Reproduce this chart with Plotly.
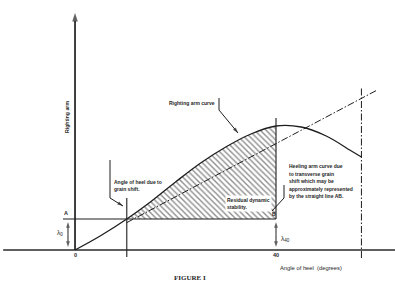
import plotly.graph_objects as go

# ---- data (angle of heel in degrees, arms in arbitrary units) ----
angles = [0, 5, 10.3, 15, 20, 25, 30, 35, 40, 45, 50, 55, 57]
righting_arm = [0, 0.14, 0.31, 0.48, 0.68, 0.87, 1.03, 1.16, 1.24, 1.23, 1.14, 0.99, 0.93]
grain_shift_angle = 10.3
lambda_0 = 0.31
lambda_40 = 0.31
heel_line_x = [10.3, 60]
heel_line_slope = 0.0266
limit_angle = 57
x_tick_vals = [0, 40]
x_tick_text = ["0", "40"]

W, H = 395, 295
X_RANGE = [-14.93, 63.68]
Y_RANGE = [-0.45, 2.50]
INK = "#1e1e1e"
FONT = "Liberation Sans, Arial, sans-serif"
DASHDOT = "7px,2px,1.5px,2px"


def px(x):
    return x / W


def py(y):
    return 1 - y / H


def dx(p):  # pixel -> data x (for layout helpers such as leader lines)
    return X_RANGE[0] + p / W * (X_RANGE[1] - X_RANGE[0])


def dy(p):
    return Y_RANGE[1] - p / H * (Y_RANGE[1] - Y_RANGE[0])


fig = go.Figure()


def line(x, y, width=1.1, dash=None, color=INK, shape="linear"):
    fig.add_trace(go.Scatter(x=x, y=y, mode="lines", hoverinfo="skip",
                             line=dict(color=color, width=width, dash=dash, shape=shape)))


def arrow(x, y, width=1, head=6):
    sizes = [0] * (len(x) - 1) + [head]
    fig.add_trace(go.Scatter(x=x, y=y, mode="lines+markers", hoverinfo="skip",
                             line=dict(color=INK, width=width),
                             marker=dict(symbol="arrow", size=sizes, angleref="previous",
                                         color=INK, line=dict(width=0))))


# hatched residual dynamic stability region
hatch_x = [a for a in angles if grain_shift_angle <= a <= 40]
hatch_y = [r for a, r in zip(angles, righting_arm) if grain_shift_angle <= a <= 40]
fig.add_trace(go.Scatter(x=hatch_x, y=[lambda_0] * len(hatch_x), mode="lines",
                         line=dict(width=0, color=INK), hoverinfo="skip"))
fig.add_trace(go.Scatter(x=hatch_x, y=hatch_y, mode="lines", fill="tonexty",
                         fillcolor="rgba(0,0,0,0)",
                         fillpattern=dict(shape="\\", fgcolor=INK, bgcolor="white",
                                          size=4, solidity=0.35),
                         line=dict(width=0, shape="spline", color=INK), hoverinfo="skip"))

# righting arm curve
line(angles, righting_arm, width=1.3, shape="spline")

# heeling arm straight line (dash-dot)
line(heel_line_x, [v * heel_line_slope for v in heel_line_x], width=1, dash=DASHDOT)

# horizontal line A-B
line([-2.4, 40], [lambda_0, lambda_40], width=1.2)

# vertical at grain-shift angle, at 40 deg, dash-dot at limit angle
line([grain_shift_angle, grain_shift_angle], [-0.07, 0.52])
line([40, 40], [lambda_40, 1.32])
line([limit_angle, limit_angle], [-0.08, 1.62], width=1, dash=DASHDOT)

# x axis line
line([-14.3, 63.7], [0, 0], width=1.7, color="#2a2a2a")
# y axis with arrowhead
arrow([0, 0], [0, 2.37], width=1.7, head=9)

# lambda double arrows
for xa, lam in [(-1.4, lambda_0), (40, lambda_40)]:
    arrow([xa, xa], [lam / 2, lam - 0.03], width=1, head=6)
    arrow([xa, xa], [lam / 2, 0.03], width=1, head=6)

# leader lines
arrow([dx(219), dx(219), dx(238)], [dy(98), dy(110), dy(133)], width=1, head=6)
arrow([dx(110), dx(110), dx(123)], [dy(160), dy(198), dy(206)], width=1, head=6)
line([dx(284), dx(284), dx(272)], [dy(185), dy(198), dy(211)], width=1)

ann = []


def txt(s, x, y, size=5, bold=True, xanchor="left", **kw):
    d = dict(text=("<b>%s</b>" % s) if bold else s, x=px(x), y=py(y), xref="paper",
             yref="paper", showarrow=False, xanchor=xanchor, yanchor="middle",
             font=dict(family=FONT, size=size, color=INK))
    d.update(kw)
    ann.append(d)


txt("Righting arm", 67, 117, size=5.2, xanchor="center", textangle=-90)
txt("Righting arm curve", 167, 103)
txt("Angle of heel due to", 112, 182)
txt("grain shift.", 112, 188.5)
for i, s in enumerate(["Heeling arm curve due", "to transverse grain",
                       "shift which may be", "approximately represented",
                       "by the straight line AB."]):
    txt(s, 287, 166 + i * 7.5)
txt("Residual dynamic<br>stability.", 225, 203, bgcolor="white", borderpad=1,
    align="left")
txt("A", 66, 213, size=5.5, xanchor="center")
txt("B", 274, 214, size=5, xanchor="center")
txt("λ<sub>0</sub>", 60, 233, size=6.5, bold=False, xanchor="center")
txt("λ<sub>40</sub>", 279, 239, size=6.5, bold=False)
for v, t in zip(x_tick_vals, x_tick_text):
    ann.append(dict(text="<b>%s</b>" % t, x=v, y=py(260), xref="x", yref="paper",
                    showarrow=False, font=dict(family=FONT, size=5.5, color=INK)))
txt("Angle of heel  (degrees)", 311, 268, size=5.8, bold=False, xanchor="center")
ann.append(dict(text="<b>FIGURE I</b>", x=px(190), y=py(284), xref="paper", yref="paper",
                showarrow=False,
                font=dict(family="Liberation Serif, Times New Roman, serif", size=7,
                          color=INK)))

fig.update_layout(
    width=W, height=H, margin=dict(l=0, r=0, t=0, b=0),
    paper_bgcolor="white", plot_bgcolor="white", showlegend=False,
    xaxis=dict(range=X_RANGE, visible=False, fixedrange=True),
    yaxis=dict(range=Y_RANGE, visible=False, fixedrange=True),
    annotations=ann,
)

fig.write_html("out.html", config={"displayModeBar": False})
